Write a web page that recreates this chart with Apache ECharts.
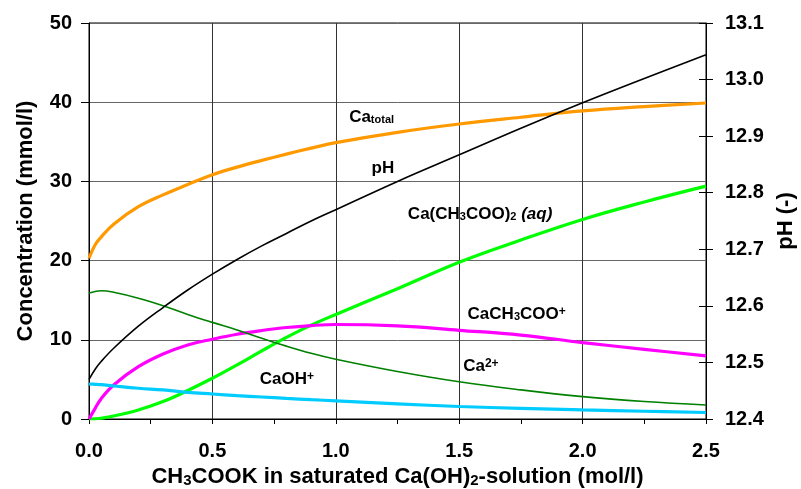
<!DOCTYPE html>
<html>
<head>
<meta charset="utf-8">
<script src="https://cdn.jsdelivr.net/npm/echarts@6/dist/echarts.min.js"></script>
<style>
  html, body { margin: 0; padding: 0; background: #fff; }
  #chart { width: 801px; height: 489px; }
</style>
</head>
<body>
<div id="chart"></div>
<script>
// CH3COOK added to saturated Ca(OH)2 solution: calcium speciation and pH
const conc = [0, 0.025, 0.05, 0.1, 0.2, 0.3, 0.4, 0.5, 0.6, 0.7, 0.8, 0.9, 1.0, 1.25, 1.5, 1.75, 2.0, 2.25, 2.5];

const caTotal   = [20.3, 22.0, 23.0, 24.6, 26.8, 28.3, 29.6, 30.85, 31.8, 32.65, 33.45, 34.2, 34.9, 36.2, 37.25, 38.1, 38.9, 39.45, 39.9];
const caAcetAq  = [0, 0.02, 0.1, 0.38, 1.14, 2.2, 3.6, 5.14, 6.83, 8.6, 10.3, 11.85, 13.2, 16.45, 19.8, 22.6, 25.2, 27.4, 29.4];
const caIon     = [15.9, 16.1, 16.2, 16.0, 15.25, 14.3, 13.2, 12.2, 11.25, 10.2, 9.2, 8.3, 7.55, 6.0, 4.7, 3.68, 2.82, 2.2, 1.77];
const caAcetIon = [0, 1.35, 2.6, 4.3, 6.6, 8.2, 9.35, 10.07, 10.7, 11.17, 11.55, 11.8, 11.93, 11.75, 11.2, 10.6, 9.65, 8.8, 7.96];
const caOH      = [4.42, 4.38, 4.33, 4.17, 3.88, 3.67, 3.37, 3.16, 2.95, 2.78, 2.6, 2.44, 2.3, 1.92, 1.58, 1.35, 1.14, 0.98, 0.82];
const pH        = [12.470, 12.488, 12.502, 12.525, 12.564, 12.597, 12.628, 12.656, 12.682, 12.706, 12.728, 12.750, 12.770, 12.820, 12.867, 12.914, 12.959, 13.002, 13.044];

const xTicks = { min: 0, max: 2.5, step: 0.5 };
const concTicks = { min: 0, max: 50, step: 10 };
const pHTicks = { min: 12.4, max: 13.1, step: 0.1 };

// curve labels: rich text, anchor [x, concentration] at left edge / vertical centre
const curveLabels = [
  { text: 'Ca{sub|total}', at: [1.054, 38.1] },
  { text: 'pH', at: [1.145, 31.7] },
  { text: 'Ca(CH{sub|3}COO){sub|2} {it|(aq)}', at: [1.292, 25.9] },
  { text: 'CaCH{sub|3}COO{sup|+}', at: [1.534, 13.2] },
  { text: 'Ca{sup|2+}', at: [1.516, 6.7] },
  { text: 'CaOH{sup|+}', at: [0.692, 5.0] }
];

const FONT = '"Liberation Sans", Arial, Helvetica, sans-serif';

const pairs = arr => conc.map((x, i) => [x, arr[i]]);

function curve(name, data, color, width, yIdx) {
  return {
    name, type: 'line', data: pairs(data), yAxisIndex: yIdx || 0,
    showSymbol: false, smooth: 0.4,
    lineStyle: { color, width }, itemStyle: { color },
    z: 3
  };
}

const chart = echarts.init(document.getElementById('chart'), null, { renderer: 'canvas' });

const axisLabelStyle = { color: '#000', fontFamily: FONT, fontWeight: 'bold', fontSize: 20 };
const nameStyle = { color: '#000', fontFamily: FONT, fontWeight: 'bold', fontSize: 22 };

chart.setOption({
  animation: false,
  backgroundColor: '#fff',
  grid: {
    left: 89, top: 23, width: 617, height: 396,
    containLabel: false, outerBoundsMode: 'none',
    show: true, borderColor: '#000', borderWidth: 1, backgroundColor: 'transparent'
  },
  xAxis: {
    type: 'value', min: xTicks.min, max: xTicks.max, interval: xTicks.step,
    name: 'CH{sub|3}COOK in saturated Ca(OH){sub|2}-solution (mol/l)',
    nameLocation: 'middle', nameGap: 36,
    nameTextStyle: Object.assign({}, nameStyle, {
      rich: { sub: { fontFamily: FONT, fontWeight: 'bold', fontSize: 15, verticalAlign: 'bottom', lineHeight: 15, padding: [6, 0, 0, 0] } }
    }),
    axisLine: { show: true, lineStyle: { color: '#000', width: 1 } },
    axisTick: { show: true, length: 5, lineStyle: { color: '#000' } },
    minorTick: { show: true, splitNumber: 2, length: 5, lineStyle: { color: '#000' } },
    axisLabel: Object.assign({}, axisLabelStyle, { margin: 22, formatter: v => v.toFixed(1) }),
    splitLine: { show: true, lineStyle: { color: '#333', width: 1 } }
  },
  yAxis: [
    {
      type: 'value', min: concTicks.min, max: concTicks.max, interval: concTicks.step, position: 'left',
      name: 'Concentration (mmol/l)', nameLocation: 'middle', nameGap: 52, nameRotate: 90,
      nameTextStyle: nameStyle,
      axisLine: { show: true, lineStyle: { color: '#000', width: 1 } },
      axisTick: { show: true, length: 8, lineStyle: { color: '#000' } },
      axisLabel: Object.assign({}, axisLabelStyle, { margin: 17 }),
      splitLine: { show: true, lineStyle: { color: '#666', width: 1 } }
    },
    {
      type: 'value', min: pHTicks.min, max: pHTicks.max, interval: pHTicks.step, position: 'right',
      name: 'pH (-)', nameLocation: 'middle', nameGap: 66, nameRotate: 90,
      nameTextStyle: nameStyle,
      axisLine: { show: true, lineStyle: { color: '#000', width: 1 } },
      axisTick: { show: true, length: 7, lineStyle: { color: '#000' } },
      axisLabel: Object.assign({}, axisLabelStyle, { margin: 19, formatter: v => v.toFixed(1) }),
      splitLine: { show: false }
    },
    {
      // inner half of the crossing pH ticks
      type: 'value', min: pHTicks.min, max: pHTicks.max, interval: pHTicks.step, position: 'right',
      axisLine: { show: false },
      axisTick: { show: true, inside: true, length: 7, lineStyle: { color: '#000' } },
      axisLabel: { show: false },
      splitLine: { show: false }
    }
  ],
  series: [
    curve('Ca total', caTotal, '#FF9900', 3.2),
    curve('Ca(CH3COO)2 (aq)', caAcetAq, '#00FF00', 3.2),
    curve('CaCH3COO+', caAcetIon, '#FF00FF', 3.2),
    curve('CaOH+', caOH, '#00CCFF', 3.2),
    curve('Ca2+', caIon, '#008000', 1.6),
    curve('pH', pH, '#000000', 1.6, 1)
  ]
});

// place curve labels in data coordinates
const labelRich = {
  sub: { fontFamily: FONT, fontWeight: 'bold', fontSize: 11, verticalAlign: 'bottom', lineHeight: 11, padding: [11, 0, 0, 0], fill: '#000' },
  sup: { fontFamily: FONT, fontWeight: 'bold', fontSize: 12, verticalAlign: 'top', lineHeight: 12, padding: [0, 0, 10, 0], fill: '#000' },
  it: { fontFamily: FONT, fontWeight: 'bold', fontStyle: 'italic', fontSize: 17, fill: '#000' }
};
chart.setOption({
  graphic: curveLabels.map(l => {
    const p = chart.convertToPixel({ xAxisIndex: 0, yAxisIndex: 0 }, l.at);
    return {
      type: 'text', x: p[0], y: p[1], z: 10,
      style: {
        text: l.text, fill: '#000', font: 'bold 17px ' + FONT,
        fontFamily: FONT, fontWeight: 'bold', fontSize: 17,
        textAlign: 'left', textVerticalAlign: 'middle', verticalAlign: 'middle',
        rich: labelRich
      }
    };
  })
});
</script>
</body>
</html>
